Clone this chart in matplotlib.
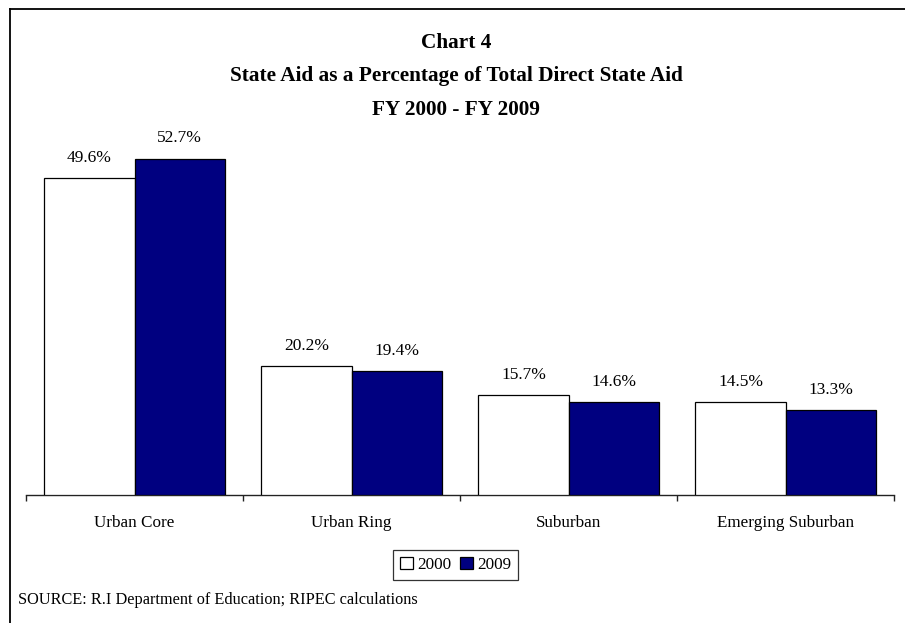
import matplotlib
matplotlib.use("Agg")
import matplotlib.pyplot as plt
import numpy as np
from matplotlib.lines import Line2D

# Share of total direct state aid by community type
categories = ["Urban Core", "Urban Ring", "Suburban", "Emerging Suburban"]
series_names = ["2000", "2009"]
values_2000 = [49.6, 20.2, 15.7, 14.5]
values_2009 = [52.7, 19.4, 14.6, 13.3]

title_lines = ["Chart 4",
               "State Aid as a Percentage of Total Direct State Aid",
               "FY 2000 - FY 2009"]
source_note = "SOURCE: R.I Department of Education; RIPEC calculations"

W, H = 905, 623
plt.rcParams["font.family"] = ["Liberation Serif", "DejaVu Serif"]

fig = plt.figure(figsize=(W / 100, H / 100), dpi=100)
fig.patch.set_facecolor("white")

def fx(px):
    return px / W

def fy(py):
    return 1 - py / H

# plot area in pixel terms
left_px, right_px, base_px, top_px = 26, 894, 495, 112
ax = fig.add_axes([fx(left_px), fy(base_px), fx(right_px - left_px), (base_px - top_px) / H])

x = np.arange(len(categories))
bw = 0.415
b1 = ax.bar(x - bw / 2, values_2000, width=bw, color="white", edgecolor="black",
            linewidth=0.9, label=series_names[0], zorder=3)
b2 = ax.bar(x + bw / 2, values_2009, width=bw, color="#000080", edgecolor="black",
            linewidth=0.9, label=series_names[1], zorder=3)

for bars, vals in ((b1, values_2000), (b2, values_2009)):
    for r, v in zip(bars, vals):
        ax.annotate(f"{v:.1f}%", (r.get_x() + r.get_width() / 2, v),
                    xytext=(0, 14.5), textcoords="offset points",
                    ha="center", va="center", fontsize=12.5)

ax.set_xlim(-0.5, len(categories) - 0.5)
ax.set_ylim(0, 60)

for s in ("top", "right", "left"):
    ax.spines[s].set_visible(False)
ax.spines["bottom"].set_linewidth(1.0)
ax.spines["bottom"].set_color("#222222")
ax.set_yticks([])

ax.set_xticks(x)
ax.set_xticklabels(categories, fontsize=12.3)
ax.tick_params(axis="x", which="major", length=0, pad=14.5)
ax.set_xticks(np.arange(-0.5, len(categories)), minor=True)
ax.tick_params(axis="x", which="minor", length=4.5, width=1.0, direction="out", color="#222222")

# titles
for i, line in enumerate(title_lines):
    fig.text(fx(456), fy(43 + i * 33.5), line, ha="center", va="center",
             fontsize=15.3, fontweight="bold")

# legend
leg = fig.legend(handles=[b1, b2], labels=series_names, loc="center",
                 bbox_to_anchor=(fx(455.5), fy(565)), ncol=2, fontsize=12.3,
                 frameon=True, fancybox=False, edgecolor="black",
                 handlelength=0.75, handleheight=0.75, handletextpad=0.25,
                 columnspacing=0.5, borderpad=0.4, borderaxespad=0)
leg.get_frame().set_linewidth(0.9)

fig.text(fx(18), fy(600), source_note, ha="left", va="center", fontsize=11.7)

# outer frame (left and top edges fall inside the canvas)
fig.add_artist(Line2D([fx(10), fx(10)], [fy(9), 0], color="black", linewidth=1.3))
fig.add_artist(Line2D([fx(10), 1], [fy(9), fy(9)], color="black", linewidth=1.3))

fig.savefig("out.png", dpi=100, facecolor="white")
